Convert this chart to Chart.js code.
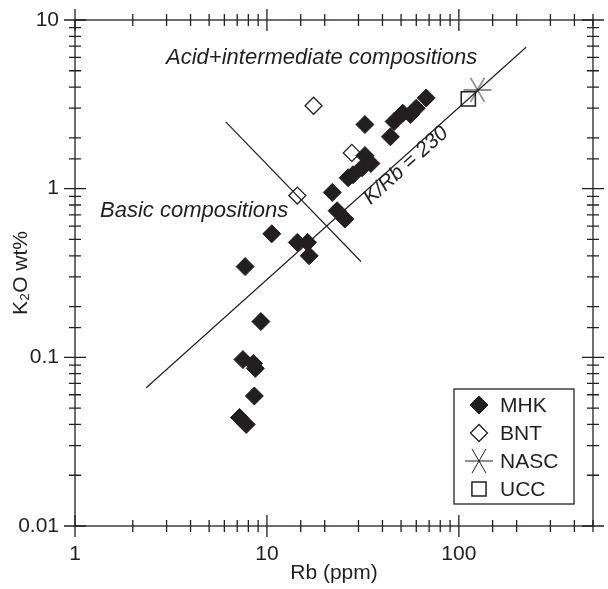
<!DOCTYPE html>
<html>
<head>
<meta charset="utf-8">
<script src="https://cdn.jsdelivr.net/npm/chart.js@4.4.0/dist/chart.umd.min.js"></script>
<style>
  html, body { margin: 0; padding: 0; background: #fff; }
  #wrap { width: 608px; height: 589px; position: relative; }
</style>
</head>
<body>
<div id="wrap"><canvas id="chart"></canvas></div>
<script>
// MHK samples: Rb (ppm) and K2O (wt%)
const mhkRb  = [7.2, 7.8, 8.6, 7.5, 8.5, 8.7, 9.3, 7.7, 10.6, 14.4, 16.3, 16.6, 21.9, 23.2, 25.5, 26.5, 28.1, 31.3, 32.4, 34.8, 32.4, 44, 46, 51, 56, 60, 67.6]
const mhkK2O = [0.044, 0.040, 0.059, 0.097, 0.092, 0.086, 0.163, 0.345, 0.54, 0.48, 0.48, 0.40, 0.95, 0.74, 0.66, 1.16, 1.21, 1.33, 1.57, 1.41, 2.4, 2.03, 2.5, 2.8, 2.75, 3.0, 3.45]

// BNT samples
const bntRb  = [14.4, 17.5, 27.7]
const bntK2O = [0.91, 3.1, 1.63]

// reference compositions
const nascRb = [125]
const nascK2O = [3.85]
const uccRb = [112]
const uccK2O = [3.41]

// K/Rb = 230 line and the basic / acid divide
const krbRb  = [2.35, 224]
const krbK2O = [0.066, 6.9]
const divRb  = [6.1, 30.9]
const divK2O = [2.49, 0.37]

const xTickLabels = ['1', '10', '100']
const yTickLabels = ['0.01', '0.1', '1', '10']

const ink = '#231f20'
const fontName = '"Liberation Sans", Arial, sans-serif'

const pts = (xs, ys) => xs.map((v, i) => ({ x: v, y: ys[i] }))

// asterisk used for NASC
const star = document.createElement('canvas')
star.width = 32
star.height = 32
const sctx = star.getContext('2d')
sctx.strokeStyle = ink
sctx.lineWidth = 1
for (let a = 0; a < 3; a++) {
  const ang = a * Math.PI / 3
  sctx.beginPath()
  sctx.moveTo(16 - 14 * Math.cos(ang), 16 - 14 * Math.sin(ang))
  sctx.lineTo(16 + 14 * Math.cos(ang), 16 + 14 * Math.sin(ang))
  sctx.stroke()
}

function tickLabel(list, v) {
  const hit = list.find(s => Math.abs(Number(s) - v) < v * 1e-6)
  return hit || ''
}

function isMajor(v) {
  const l = Math.log10(v)
  return Math.abs(l - Math.round(l)) < 1e-6
}

// no extra room for edge labels, the frame sits where the layout padding says
function fixPadding(s) {
  s.paddingTop = 0
  s.paddingBottom = 0
  s.paddingLeft = 0
  s.paddingRight = 0
}

const legendItems = [
  { text: 'MHK', style: 'rectRot', radius: 9, fill: ink, bw: 1 },
  { text: 'BNT', style: 'rectRot', radius: 8.5, fill: 'rgba(0,0,0,0)', bw: 1.3 },
  { text: 'NASC', style: star, radius: 14, fill: 'rgba(0,0,0,0)', bw: 0 },
  { text: 'UCC', style: 'rect', radius: 10, fill: 'rgba(0,0,0,0)', bw: 1.5 }
]

const decor = {
  id: 'decor',
  afterDraw(chart) {
    const { ctx, chartArea: a, scales: { x, y } } = chart
    ctx.save()
    ctx.strokeStyle = ink
    ctx.lineWidth = 1.3
    ctx.strokeRect(a.left, a.top, a.right - a.left, a.bottom - a.top)

    // ticks crossing all four sides
    ctx.beginPath()
    x.ticks.forEach(t => {
      const px = x.getPixelForValue(t.value)
      const len = isMajor(t.value) ? 11 : 6
      ctx.moveTo(px, a.bottom - len); ctx.lineTo(px, a.bottom + len)
      ctx.moveTo(px, a.top - len); ctx.lineTo(px, a.top + len)
    })
    y.ticks.forEach(t => {
      const py = y.getPixelForValue(t.value)
      const len = isMajor(t.value) ? 11 : 6
      ctx.moveTo(a.left - len, py); ctx.lineTo(a.left + len, py)
      ctx.moveTo(a.right - len, py); ctx.lineTo(a.right + len, py)
    })
    ctx.stroke()

    // field labels
    ctx.fillStyle = ink
    ctx.textBaseline = 'middle'
    ctx.textAlign = 'left'
    ctx.font = 'italic 22px ' + fontName
    ctx.fillText('Acid+intermediate compositions', x.getPixelForValue(2.98), y.getPixelForValue(5.96))
    ctx.fillText('Basic compositions', x.getPixelForValue(1.35), y.getPixelForValue(0.74))

    // K/Rb label along the line
    const x0 = x.getPixelForValue(krbRb[0]), y0 = y.getPixelForValue(krbK2O[0])
    const x1 = x.getPixelForValue(krbRb[1]), y1 = y.getPixelForValue(krbK2O[1])
    const ang = Math.atan2(y1 - y0, x1 - x0)
    ctx.save()
    ctx.translate(x.getPixelForValue(53), y.getPixelForValue(1.37))
    ctx.rotate(ang)
    ctx.textAlign = 'center'
    ctx.font = 'italic 21px ' + fontName
    ctx.fillText('K/Rb = 230', 0, 0)
    ctx.restore()

    // legend box
    const bx = a.right - 139, by = a.bottom - 137, bw = 120, bh = 115
    ctx.fillStyle = '#fff'
    ctx.fillRect(bx, by, bw, bh)
    ctx.lineWidth = 1.3
    ctx.strokeRect(bx, by, bw, bh)
    ctx.font = '21px ' + fontName
    legendItems.forEach((it, i) => {
      const cy = by + 16 + i * 28
      ctx.fillStyle = it.fill
      ctx.strokeStyle = ink
      ctx.lineWidth = it.bw
      Chart.helpers.drawPoint(ctx, { pointStyle: it.style, radius: it.radius, rotation: 0, borderWidth: it.bw }, bx + 25, cy)
      ctx.fillStyle = ink
      ctx.fillText(it.text, bx + 46, cy + 1)
    })
    ctx.restore()
  }
}

const ctxChart = document.getElementById('chart')

new Chart(ctxChart, {
  type: 'scatter',
  data: {
    datasets: [
      {
        label: 'MHK',
        data: pts(mhkRb, mhkK2O),
        pointStyle: 'rectRot',
        pointRadius: 9,
        backgroundColor: ink,
        borderColor: ink,
        borderWidth: 1,
        order: 2
      },
      {
        label: 'BNT',
        data: pts(bntRb, bntK2O),
        pointStyle: 'rectRot',
        pointRadius: 8.5,
        backgroundColor: 'rgba(0,0,0,0)',
        borderColor: ink,
        borderWidth: 1.3,
        order: 1
      },
      {
        label: 'NASC',
        data: pts(nascRb, nascK2O),
        pointStyle: star,
        pointRadius: 14,
        order: 0
      },
      {
        label: 'UCC',
        data: pts(uccRb, uccK2O),
        pointStyle: 'rect',
        pointRadius: 10,
        backgroundColor: 'rgba(0,0,0,0)',
        borderColor: ink,
        borderWidth: 1.5,
        order: 0
      },
      {
        label: 'K/Rb = 230',
        data: pts(krbRb, krbK2O),
        showLine: true,
        pointRadius: 0,
        borderColor: ink,
        borderWidth: 1.2,
        order: 5
      },
      {
        label: 'divide',
        data: pts(divRb, divK2O),
        showLine: true,
        pointRadius: 0,
        borderColor: ink,
        borderWidth: 1.2,
        order: 5
      }
    ]
  },
  options: {
    responsive: true,
    maintainAspectRatio: false,
    animation: false,
    events: [],
    layout: { padding: { left: 0, right: 7, top: 20, bottom: 0 } },
    plugins: {
      legend: { display: false },
      tooltip: { enabled: false }
    },
    scales: {
      x: {
        type: 'logarithmic',
        min: 1,
        max: 500,
        grid: { display: false, drawTicks: false },
        border: { display: false },
        ticks: {
          autoSkip: false,
          maxRotation: 0,
          padding: 16,
          color: ink,
          font: { family: fontName, size: 21 },
          callback: v => tickLabel(xTickLabels, v)
        },
        title: {
          display: true,
          text: 'Rb (ppm)',
          color: ink,
          font: { family: fontName, size: 21 },
          padding: { top: 0, bottom: 3 }
        },
        afterFit: s => { s.height = 63; fixPadding(s) }
      },
      y: {
        type: 'logarithmic',
        min: 0.01,
        max: 10,
        grid: { display: false, drawTicks: false },
        border: { display: false },
        ticks: {
          autoSkip: false,
          padding: 16,
          color: ink,
          font: { family: fontName, size: 21 },
          callback: v => tickLabel(yTickLabels, v)
        },
        title: {
          display: true,
          text: 'K₂O wt%',
          color: ink,
          font: { family: fontName, size: 21 },
          padding: { top: 9, bottom: 0 }
        },
        afterFit: s => { s.width = 75; fixPadding(s) }
      }
    }
  },
  plugins: [decor]
})
</script>
</body>
</html>
